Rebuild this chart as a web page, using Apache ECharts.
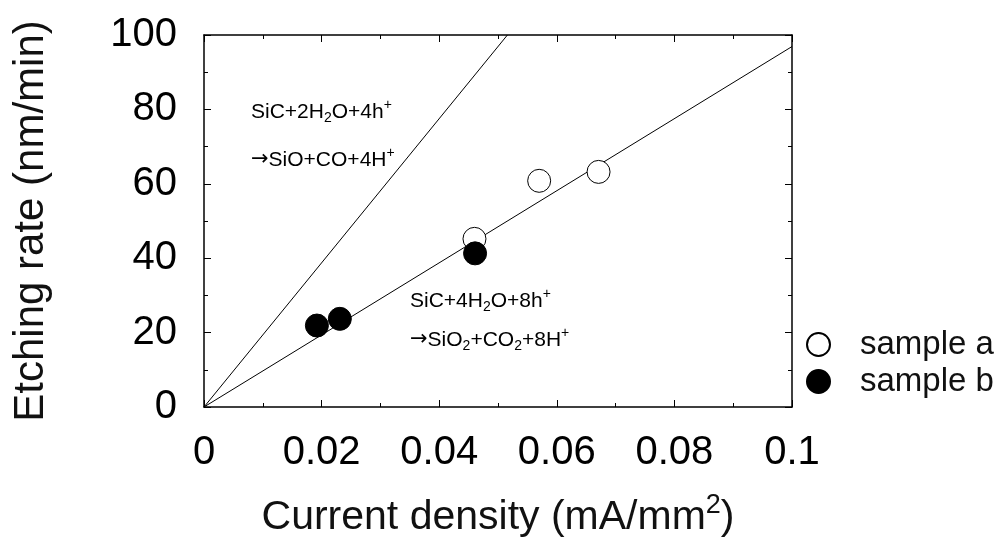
<!DOCTYPE html>
<html>
<head>
<meta charset="utf-8">
<script src="https://cdn.jsdelivr.net/npm/echarts@6/dist/echarts.min.js"></script>
<style>
  html, body { margin: 0; padding: 0; background: #fff; }
  #chart { width: 996px; height: 540px; }
</style>
</head>
<body>
<div id="chart"></div>
<script>
// Measured etching rates (x: current density mA/mm², y: nm/min)
const sampleA = [[0.0460, 45.2], [0.0570, 60.8], [0.0671, 63.2]];
const sampleB = [[0.0192, 21.9], [0.0231, 23.7], [0.0461, 41.3]];
// Theoretical lines for the two reactions
const reaction8h = [[0, 0], [0.1, 96.9]];
const reaction4h = [[0, 0], [0.0516, 100]];
const xTicks = { min: 0, max: 0.1, interval: 0.02 };
const yTicks = { min: 0, max: 100, interval: 20 };

const FONT = 'Liberation Sans, Arial, Helvetica, sans-serif';
const chart = echarts.init(document.getElementById('chart'), null, { renderer: 'canvas' });

// Rich-text styles for the chemical equations (sub/superscripts via padding shifts)
const rich = {
  b: { fontSize: 21, fontFamily: FONT, color: '#111', lineHeight: 28 },
  ar: { fontSize: 21, fontFamily: 'DejaVu Sans', color: '#111', lineHeight: 28 },
  sub: { fontSize: 14, fontFamily: FONT, color: '#111', lineHeight: 14, padding: [12, 0, 0, 0] },
  sup: { fontSize: 14, fontFamily: FONT, color: '#111', lineHeight: 14, padding: [0, 0, 14, 0] }
};

const tickCommon = {
  axisLine: { show: true, onZero: false, lineStyle: { color: '#000', width: 1.5 } },
  axisTick: { show: true, inside: true, length: 7, lineStyle: { color: '#000', width: 1 } },
  minorTick: { show: true, splitNumber: 2, length: 4, lineStyle: { color: '#000', width: 1 } },
  splitLine: { show: false }
};

chart.setOption({
  animation: false,
  backgroundColor: '#fff',
  grid: { left: 204, right: 204, top: 35, bottom: 133, containLabel: false, outerBoundsMode: 'none' },
  xAxis: [
    Object.assign({
      type: 'value', min: xTicks.min, max: xTicks.max, interval: xTicks.interval,
      name: 'Current density (mA/mm{s|2})',
      nameLocation: 'middle', nameGap: 90,
      nameTextStyle: {
        fontSize: 41, fontFamily: FONT, color: '#111',
        rich: { s: { fontSize: 27, fontFamily: FONT, color: '#111', lineHeight: 27, padding: [0, 0, 24, 0] } }
      },
      axisLabel: { fontSize: 40, fontFamily: FONT, color: '#000', margin: 26,
        formatter: v => String(+v.toFixed(2)) }
    }, tickCommon),
    Object.assign({
      type: 'value', position: 'top', min: xTicks.min, max: xTicks.max, interval: xTicks.interval,
      axisLabel: { show: false }
    }, tickCommon)
  ],
  yAxis: [
    Object.assign({
      type: 'value', min: yTicks.min, max: yTicks.max, interval: yTicks.interval,
      name: 'Etching rate (nm/min)',
      nameLocation: 'middle', nameGap: 152,
      nameTextStyle: { fontSize: 42, fontFamily: FONT, color: '#111' },
      axisLabel: { fontSize: 40, fontFamily: FONT, color: '#000', margin: 27 }
    }, tickCommon),
    Object.assign({
      type: 'value', position: 'right', min: yTicks.min, max: yTicks.max, interval: yTicks.interval,
      axisLabel: { show: false }
    }, tickCommon)
  ],
  legend: {
    orient: 'vertical', left: 806, top: 328, itemGap: 4, padding: 0,
    itemWidth: 23, itemHeight: 23,
    textStyle: { fontSize: 33, fontFamily: FONT, color: '#111', padding: [0, 0, 0, 25] },
    data: ['sample a', 'sample b']
  },
  series: [
    {
      type: 'line', data: reaction8h, symbol: 'none', silent: true,
      lineStyle: { color: '#000', width: 1 }, clip: true, z: 1
    },
    {
      type: 'line', data: reaction4h, symbol: 'none', silent: true,
      lineStyle: { color: '#000', width: 1 }, clip: true, z: 1
    },
    {
      name: 'sample a', type: 'scatter', data: sampleA, symbol: 'circle', symbolSize: 23,
      itemStyle: { color: '#fff', borderColor: '#000', borderWidth: 1, opacity: 1 }, z: 3
    },
    {
      name: 'sample b', type: 'scatter', data: sampleB, symbol: 'circle', symbolSize: 23,
      itemStyle: { color: '#000', borderColor: '#000', borderWidth: 1, opacity: 1 }, z: 4
    }
  ],
  graphic: [
    { type: 'text', left: 251, top: 98, z: 10,
      style: { text: '{b|SiC+2H}{sub|2}{b|O+4h}{sup|+}', rich: rich } },
    { type: 'text', left: 251, top: 146, z: 10,
      style: { text: '{ar|\u2192}{b|SiO+CO+4H}{sup|+}', rich: rich } },
    { type: 'text', left: 410, top: 287, z: 10,
      style: { text: '{b|SiC+4H}{sub|2}{b|O+8h}{sup|+}', rich: rich } },
    { type: 'text', left: 410, top: 326, z: 10,
      style: { text: '{ar|\u2192}{b|SiO}{sub|2}{b|+CO}{sub|2}{b|+8H}{sup|+}', rich: rich } }
  ]
});
</script>
</body>
</html>
